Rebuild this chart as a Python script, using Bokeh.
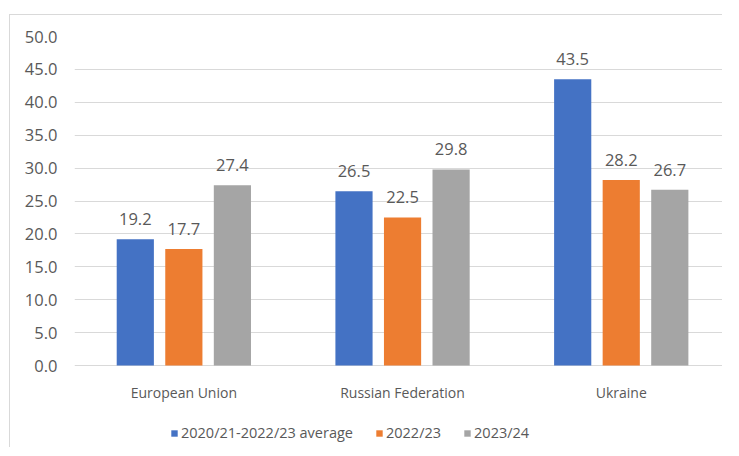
from bokeh.plotting import figure
from bokeh.models import (ColumnDataSource, Range1d, LabelSet, Legend,
                          LegendItem, FixedTicker, NumeralTickFormatter)
from bokeh.core.properties import value
from bokeh.transform import dodge
from bokeh.embed import file_html
from bokeh.resources import INLINE

categories = ["European Union", "Russian Federation", "Ukraine"]
series = ["2020/21-2022/23 average", "2022/23", "2023/24"]
avg_2021_2223 = [19.2, 26.5, 43.5]
val_2022_23 = [17.7, 22.5, 28.2]
val_2023_24 = [27.4, 29.8, 26.7]
y_ticks = [0, 5, 10, 15, 20, 25, 30, 35, 40, 45, 50]
colors = ["#4472C4", "#ED7D31", "#A5A5A5"]

FONT = "Open Sans"
TXT = "#595959"
GRID = "#d9d9d9"

src = ColumnDataSource(dict(
    cat=categories,
    xc=[i + 0.5 for i in range(len(categories))],
    zero=[0] * len(categories),
    s0=avg_2021_2223, s1=val_2022_23, s2=val_2023_24,
    l0=[f"{v:.1f}" for v in avg_2021_2223],
    l1=[f"{v:.1f}" for v in val_2022_23],
    l2=[f"{v:.1f}" for v in val_2023_24],
))

# the chart area is cropped on the right side (last category slightly cut)
p = figure(x_range=Range1d(0, 2.963), y_range=Range1d(-12.6, 50),
           width=713, height=433, output_backend="svg", toolbar_location=None,
           x_axis_location=None,
           min_border_left=64, min_border_right=1, min_border_top=21,
           min_border_bottom=0)
p.styles = {"margin-left": "9px", "margin-top": "14px",
            "border-left": "1px solid #d9d9d9", "border-top": "1px solid #d9d9d9",
            "border-right": "none", "border-bottom": "none",
            "box-shadow": "none", "outline": "none"}
p.outline_line_color = None

offsets = [-0.222, 0.0, 0.222]
renderers = []
for i, (off, col) in enumerate(zip(offsets, colors)):
    r = p.vbar(x=dodge("xc", off), top=f"s{i}", width=0.17,
               source=src, fill_color=col, line_color=None)
    renderers.append(r)
    lbl = LabelSet(x=dodge("xc", off), y=f"s{i}", text=f"l{i}",
                   source=src, y_offset=14, text_align="center",
                   text_baseline="alphabetic", text_font=value(FONT),
                   text_font_size=value("16.5px"), text_color=value(TXT))
    p.add_layout(lbl)

# category labels under the zero line
cat_lbl = LabelSet(x="xc", y="zero", text="cat", source=src, y_offset=-27,
                   text_align="center", text_baseline="middle",
                   text_font=value(FONT), text_font_size=value("14px"),
                   text_color=value(TXT))
p.add_layout(cat_lbl)

p.yaxis.ticker = FixedTicker(ticks=y_ticks)
p.yaxis.formatter = NumeralTickFormatter(format="0.0")
p.yaxis.axis_line_color = None
p.yaxis.major_tick_line_color = None
p.yaxis.minor_tick_line_color = None
p.yaxis.major_tick_out = 0
p.yaxis.major_tick_in = 0
p.yaxis.major_label_standoff = 17
p.yaxis.major_label_text_font = FONT
p.yaxis.major_label_text_font_size = "16.5px"
p.yaxis.major_label_text_color = TXT
p.xgrid.grid_line_color = None
p.ygrid.grid_line_color = GRID

legend = Legend(items=[LegendItem(label=s, renderers=[r]) for s, r in zip(series, renderers)],
                orientation="horizontal", location=(96, 6), padding=0, margin=0,
                spacing=22, label_standoff=3, glyph_width=8, glyph_height=8,
                label_text_font=FONT, label_text_font_size="14.5px",
                label_text_color=TXT, border_line_color=None,
                background_fill_alpha=0)
p.add_layout(legend, "center")

open("out.html", "w").write(file_html(p, INLINE))
